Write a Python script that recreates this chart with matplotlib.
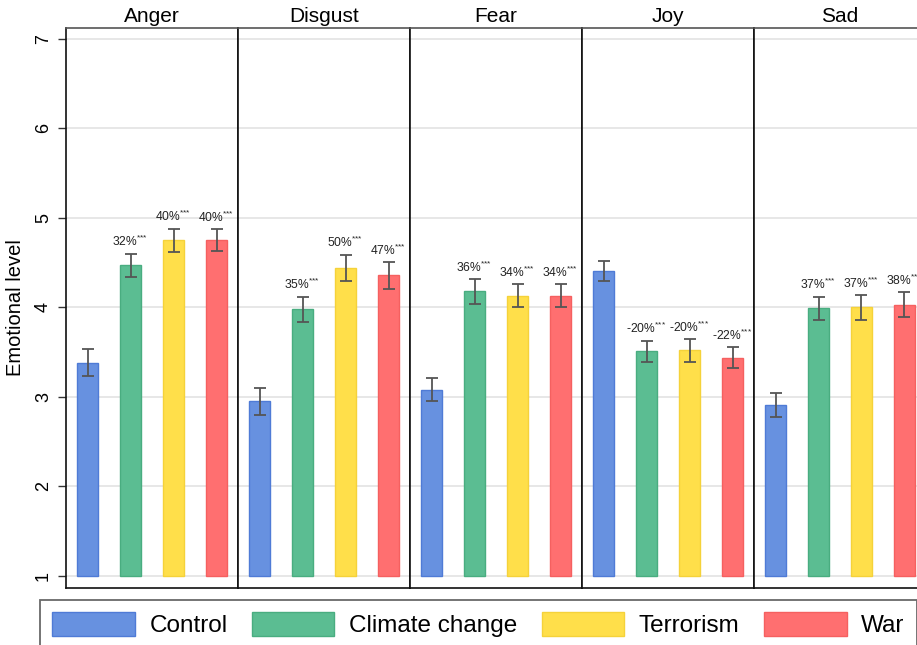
import matplotlib
matplotlib.use("Agg")
import matplotlib.pyplot as plt
from matplotlib.patches import Patch
import numpy as np

plt.rcParams['font.family'] = ['Liberation Sans', 'DejaVu Sans']
plt.rcParams['mathtext.fontset'] = 'custom'
plt.rcParams['mathtext.rm'] = 'Liberation Sans'
plt.rcParams['mathtext.default'] = 'regular'

emotions = ['Anger', 'Disgust', 'Fear', 'Joy', 'Sad']
groups = ['Control', 'Climate change', 'Terrorism', 'War']
colors = ['#6791e0', '#5bbd92', '#ffdf4a', '#ff6f70']
edges = ['#4f7bd6', '#49ad80', '#f5d23a', '#f56060']

# mean emotional level per emotion (rows) and treatment group (columns)
means = np.array([
    [3.38, 4.47, 4.75, 4.75],
    [2.95, 3.98, 4.44, 4.36],
    [3.08, 4.18, 4.13, 4.13],
    [4.41, 3.51, 3.52, 3.44],
    [2.91, 3.99, 4.00, 4.03],
])
# half-width of the confidence intervals
ci = np.array([
    [0.15, 0.13, 0.13, 0.12],
    [0.15, 0.14, 0.15, 0.15],
    [0.13, 0.14, 0.13, 0.13],
    [0.11, 0.12, 0.13, 0.12],
    [0.13, 0.13, 0.14, 0.14],
])
# change relative to control
changes = [
    ['32%', '40%', '40%'],
    ['35%', '50%', '47%'],
    ['36%', '34%', '34%'],
    ['-20%', '-20%', '-22%'],
    ['37%', '37%', '38%'],
]

W, H = 917, 645
fig = plt.figure(figsize=(W / 100, H / 100), dpi=100)

left, pw = 66, 172
bottom, top = 57, 617
x = np.arange(4) + 0.5
base = 1.0

for i, emo in enumerate(emotions):
    ax = fig.add_axes([(left + pw * i) / W, bottom / H, pw / W, (top - bottom) / H])
    heights = means[i] - base
    ax.bar(x, heights, width=0.5, bottom=base, color=colors, edgecolor=edges,
           linewidth=1, zorder=2)
    ax.errorbar(x, means[i], yerr=ci[i], fmt='none', ecolor='#555555',
                elinewidth=1.3, capsize=4.5, capthick=1.3, zorder=3)
    for j in range(1, 4):
        ax.annotate(changes[i][j - 1] + r'$^{{*}{*}{*}}$', (x[j], means[i][j] + ci[i][j]),
                    xytext=(0, 3), textcoords='offset points',
                    ha='center', va='bottom', fontsize=8.7, color='#222222')
    ax.set_xlim(0, 4)
    ax.set_ylim(0.866, 7.12)
    ax.set_xticks([])
    ax.set_yticks(range(1, 8))
    ax.grid(axis='y', color='#e3e3e3', linewidth=1.2, zorder=0)
    ax.set_axisbelow(True)
    ax.set_title(emo, fontsize=15, pad=4)
    for s in ['left', 'right', 'bottom']:
        ax.spines[s].set_color('#111111')
        ax.spines[s].set_linewidth(1.2)
    ax.spines['top'].set_color('#555555')
    ax.spines['top'].set_linewidth(1.2)
    if i == 0:
        ax.tick_params(axis='y', labelsize=13, length=6, width=1, color='#333333',
                       labelrotation=90, pad=4)
        for lab in ax.get_yticklabels():
            lab.set_va('center')
        ax.set_ylabel('Emotional level', fontsize=14.5, labelpad=7)
    else:
        ax.tick_params(axis='y', left=False, labelleft=False)

handles = [Patch(facecolor=c, edgecolor=e, label=g) for c, e, g in zip(colors, edges, groups)]
leg = fig.legend(handles=handles, loc='upper left', bbox_to_anchor=(40 / W, 1 - 600 / H),
                 ncol=4, fontsize=17.5, frameon=True, fancybox=False,
                 handlelength=3.4, handleheight=1.15, handletextpad=0.6,
                 columnspacing=1.0, borderpad=0.5, borderaxespad=0)
leg.get_frame().set_edgecolor('#444444')
leg.get_frame().set_linewidth(1.3)

fig.savefig('out.png', dpi=100)
